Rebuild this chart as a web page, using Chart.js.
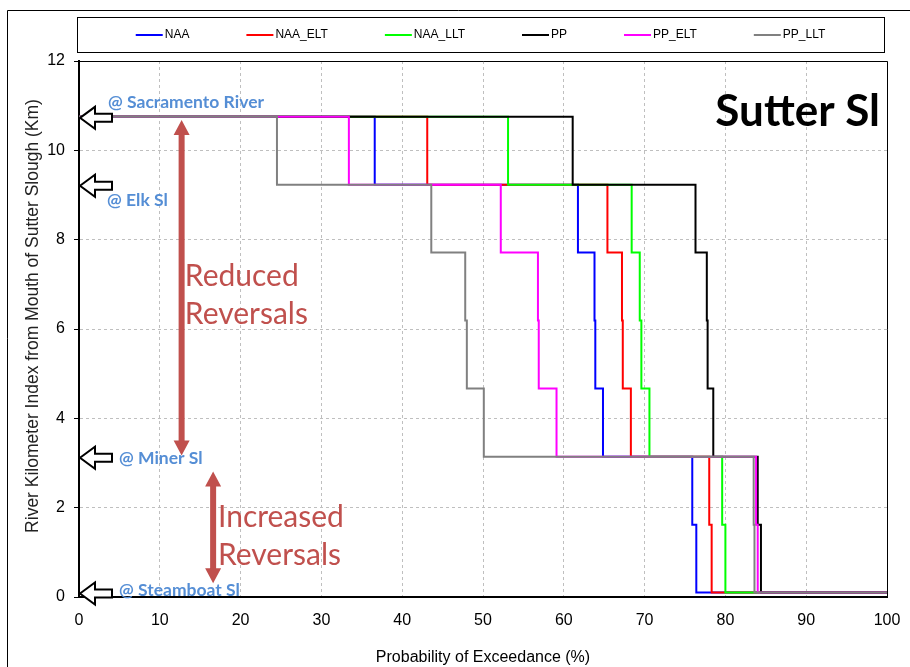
<!DOCTYPE html>
<html>
<head>
<meta charset="utf-8">
<script src="https://cdn.jsdelivr.net/npm/chart.js@4.4.0/dist/chart.umd.min.js"></script>
<style>
  html, body { margin: 0; padding: 0; background: #fff; }
</style>
</head>
<body>
<canvas id="mycanvas" width="910" height="667"></canvas>
<script>
// river km levels the curves step through (top to bottom)
var levels = [10.75, 9.23, 7.71, 6.19, 4.67, 3.14, 1.62, 0.1];
var seriesNames = ['NAA', 'NAA_ELT', 'NAA_LLT', 'PP', 'PP_ELT', 'PP_LLT'];

// exceedance (%) at which each series drops to the next level
var naa    = [36.6, 61.75, 63.8, 63.9, 64.85, 75.9, 76.4];
var naaElt = [43.1, 65.4, 67.2, 67.3, 68.3, 78.0, 78.3];
var naaLlt = [53.1, 68.4, 69.4, 69.6, 70.6, 79.6, 80.0];
var pp     = [61.1, 76.3, 77.7, 77.8, 78.5, 84.0, 84.4];
var ppElt  = [33.4, 52.2, 56.8, 56.9, 59.1, 83.8, 84.0];
var ppLlt  = [24.5, 43.6, 47.8, 48.0, 50.1, 83.5, 83.6];

var stationNames = ['@ Sacramento River', '@ Elk Sl', '@ Miner Sl', '@ Steamboat Sl'];
var stationKm = [10.75, 9.23, 3.14, 0.1];

var reducedText = ['Reduced', 'Reversals'];
var increasedText = ['Increased', 'Reversals'];
var yTitle = 'River Kilometer Index from Mouth of Sutter Slough (Km)';

var FONT = '"Liberation Sans", Arial, sans-serif';
Chart.defaults.font.family = FONT;

function stepPoints(drops) {
  var pts = [{x: 0, y: levels[0]}];
  for (var i = 0; i < drops.length; i++) {
    pts.push({x: drops[i], y: levels[i + 1]});
  }
  pts.push({x: 100, y: levels[levels.length - 1]});
  return pts;
}

var lineColors = ['#0000FF', '#FF0000', '#00FF00', '#000000', '#FF00FF', '#808080'];
var allDrops = [naa, naaElt, naaLlt, pp, ppElt, ppLlt];

var datasets = seriesNames.map(function(name, i) {
  return {
    label: name,
    data: stepPoints(allDrops[i]),
    borderColor: lineColors[i],
    backgroundColor: lineColors[i],
    borderWidth: 2,
    pointRadius: 0,
    fill: false,
    stepped: true,
    order: seriesNames.length - i
  };
});

function blockArrow(ctx, x, y) {
  ctx.beginPath();
  ctx.moveTo(x, y);
  ctx.lineTo(x + 15, y - 11);
  ctx.lineTo(x + 15, y - 4);
  ctx.lineTo(x + 32, y - 4);
  ctx.lineTo(x + 32, y + 4);
  ctx.lineTo(x + 15, y + 4);
  ctx.lineTo(x + 15, y + 11);
  ctx.closePath();
  ctx.fillStyle = '#fff';
  ctx.fill();
  ctx.lineWidth = 2;
  ctx.strokeStyle = '#000';
  ctx.stroke();
}

function doubleArrow(ctx, x, y1, y2) {
  var hw = 8, sw = 3, hl = 15;
  ctx.beginPath();
  ctx.moveTo(x, y1);
  ctx.lineTo(x + hw, y1 + hl);
  ctx.lineTo(x + sw, y1 + hl);
  ctx.lineTo(x + sw, y2 - hl);
  ctx.lineTo(x + hw, y2 - hl);
  ctx.lineTo(x, y2);
  ctx.lineTo(x - hw, y2 - hl);
  ctx.lineTo(x - sw, y2 - hl);
  ctx.lineTo(x - sw, y1 + hl);
  ctx.lineTo(x - hw, y1 + hl);
  ctx.closePath();
  ctx.fillStyle = '#C0504D';
  ctx.fill();
}

var decorations = {
  id: 'decorations',
  beforeDraw: function(chart) {
    var c = chart.ctx;
    c.save();
    c.fillStyle = '#fff';
    c.fillRect(0, 0, chart.width, chart.height);
    c.strokeStyle = '#000';
    c.lineWidth = 1;
    c.beginPath();
    c.moveTo(7.5, chart.height);
    c.lineTo(7.5, 10.5);
    c.lineTo(chart.width, 10.5);
    c.stroke();

    // y axis title, set a little above the plot centre as in the original
    c.translate(33, 316);
    c.rotate(-Math.PI / 2);
    c.font = '17.5px ' + FONT;
    c.fillStyle = '#222';
    c.textAlign = 'center';
    c.textBaseline = 'middle';
    c.fillText(yTitle, 0, 0);
    c.restore();
  },
  afterDatasetsDraw: function(chart) {
    var c = chart.ctx, a = chart.chartArea;
    var xs = chart.scales.x, ys = chart.scales.y;
    c.save();

    // plot frame (top / right)
    c.strokeStyle = '#000';
    c.lineWidth = 1;
    c.beginPath();
    c.moveTo(a.left, a.top + 0.5);
    c.lineTo(a.right + 0.5, a.top + 0.5);
    c.lineTo(a.right + 0.5, a.bottom);
    c.stroke();

    // station arrows and labels
    var labelDx = [29, 28, 40, 40];
    var labelDy = [-15, 15, 1, -3];
    c.font = 'bold 17.5px Lato, "Open Sans", sans-serif';
    c.textBaseline = 'middle';
    c.textAlign = 'left';
    for (var i = 0; i < stationKm.length; i++) {
      var py = ys.getPixelForValue(stationKm[i]) + 1;
      blockArrow(c, a.left + 1, py);
      c.fillStyle = '#558ED5';
      c.fillText(stationNames[i], a.left + labelDx[i], py + labelDy[i]);
    }

    // reversal arrows
    doubleArrow(c, xs.getPixelForValue(12.7), ys.getPixelForValue(10.68), ys.getPixelForValue(3.17));
    doubleArrow(c, xs.getPixelForValue(16.6), ys.getPixelForValue(2.81), ys.getPixelForValue(0.31));

    c.font = '30px Lato, "Open Sans", sans-serif';
    c.fillStyle = '#C0504D';
    c.fillText(reducedText[0], xs.getPixelForValue(13.1), 276);
    c.fillText(reducedText[1], xs.getPixelForValue(13.1), 314);
    c.fillText(increasedText[0], xs.getPixelForValue(17.2), 517);
    c.fillText(increasedText[1], xs.getPixelForValue(17.2), 555);

    // title inside plot
    c.font = 'bold 44px Lato, "Open Sans", sans-serif';
    c.fillStyle = '#000';
    c.textAlign = 'right';
    c.fillText('Sutter Sl', a.right - 7, 112);
    c.restore();
  },
  afterDraw: function(chart) {
    var c = chart.ctx, a = chart.chartArea;
    var boxL = a.left - 2, boxR = a.right - 3, boxT = 17, boxB = 52;
    c.save();
    c.strokeStyle = '#000';
    c.lineWidth = 1;
    c.strokeRect(boxL + 0.5, boxT + 0.5, boxR - boxL, boxB - boxT);

    c.font = '12px ' + FONT;
    var lineW = 27, textGap = 2, itemGap = 57;
    var ds = chart.data.datasets;
    var total = itemGap * (ds.length - 1);
    ds.forEach(function(d) { total += lineW + textGap + c.measureText(d.label).width; });
    var x = (boxL + boxR) / 2 - total / 2;
    var y = (boxT + boxB) / 2 + 0.5;
    c.textBaseline = 'middle';
    c.textAlign = 'left';
    ds.forEach(function(d) {
      c.strokeStyle = d.borderColor;
      c.lineWidth = 2;
      c.beginPath();
      c.moveTo(x, y);
      c.lineTo(x + lineW, y);
      c.stroke();
      c.fillStyle = '#000';
      c.fillText(d.label, x + lineW + textGap, y);
      x += lineW + textGap + c.measureText(d.label).width + itemGap;
    });
    c.restore();
  }
};

var ctx = document.getElementById('mycanvas');

var sutterChart = new Chart(ctx, {
  type: 'line',
  data: { datasets: datasets },
  plugins: [decorations],
  options: {
    responsive: false,
    animation: false,
    layout: { padding: { left: 18, right: 23, top: 61, bottom: 0 } },
    plugins: {
      legend: { display: false },
      tooltip: { enabled: false }
    },
    scales: {
      x: {
        type: 'linear',
        min: 0,
        max: 100,
        ticks: { stepSize: 10, color: '#000', font: { size: 16 }, padding: 0 },
        grid: { color: '#BFBFBF', tickLength: 14, tickColor: 'rgba(0,0,0,0)' },
        border: { color: '#000', width: 2, dash: [3, 3] },
        title: {
          display: true,
          text: 'Probability of Exceedance (%)',
          color: '#000',
          font: { size: 16 },
          padding: { top: 2, bottom: 0 }
        },
        afterFit: function(scale) { scale.height = 70; }
      },
      y: {
        min: 0,
        max: 12,
        ticks: { stepSize: 2, color: '#000', font: { size: 16 }, padding: 9 },
        grid: { color: '#BFBFBF', tickColor: '#000', tickLength: 5 },
        border: { color: '#000', width: 2, dash: [3, 3] },
        afterFit: function(scale) { scale.width = 61; }
      }
    }
  }
});
</script>
</body>
</html>
